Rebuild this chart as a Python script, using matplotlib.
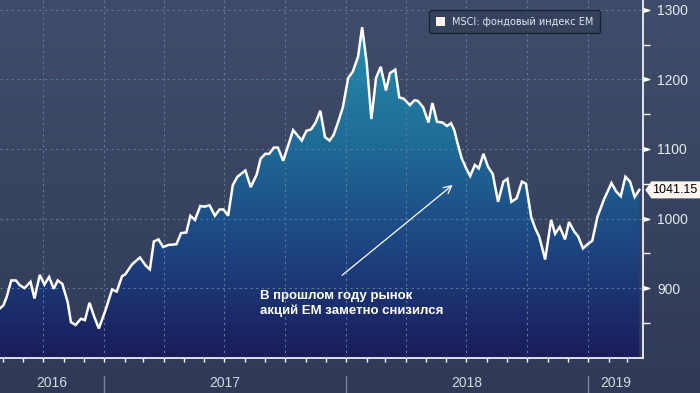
import numpy as np
import pandas as pd
import matplotlib
matplotlib.use('Agg')
import matplotlib.pyplot as plt
import matplotlib.dates as mdates
import matplotlib.transforms as mtransforms
from matplotlib.colors import LinearSegmentedColormap
from matplotlib.patches import Patch, PathPatch, Polygon

# Data: MSCI EM index, days counted from the first point
start_date = pd.Timestamp('2016-07-28')
end_date = start_date + pd.Timedelta(days=970)
day_offsets = [
    0, 5, 10, 17, 24, 30, 37, 46, 52, 60, 67, 74, 81, 87, 94, 102, 107, 114,
    122, 128, 135, 142, 149, 159, 169, 176, 184, 189, 199, 211, 220, 226, 232,
    239, 246, 254, 266, 273, 281, 287, 294, 302, 308, 316, 324, 331, 337, 344,
    351, 358, 370, 378, 387, 393, 400, 406, 413, 419, 427, 442, 455, 462, 469,
    476, 483, 490, 497, 503, 510, 517, 525, 532, 540, 546, 553, 560, 567, 574,
    582, 588, 596, 602, 609, 618, 625, 630, 638, 646, 652, 659, 667, 674, 680,
    685, 690, 696, 703, 709, 716, 722, 729, 736, 743, 751, 759, 765, 771, 779,
    787, 793, 801, 807, 813, 822, 831, 837, 844, 852, 858, 866, 872, 879, 886,
    893, 901, 911, 922, 929, 936, 943, 950, 957, 964,
]
index_values = [
    871, 875, 887, 911, 911, 904, 900, 909, 885, 919, 905, 916, 899, 911, 906,
    880, 851, 847, 856, 854, 879, 859, 842, 868, 898, 895, 917, 920, 934, 944,
    932, 927, 967, 970, 959, 962, 963, 979, 980, 1004, 998, 1018, 1017, 1019,
    1004, 1013, 1013, 1004, 1048, 1060, 1069, 1045, 1063, 1086, 1093, 1093,
    1102, 1102, 1083, 1127, 1112, 1126, 1128, 1138, 1155, 1117, 1112, 1120,
    1139, 1160, 1202, 1211, 1233, 1275, 1223, 1143, 1202, 1218, 1184, 1209,
    1214, 1174, 1172, 1163, 1170, 1169, 1160, 1138, 1166, 1139, 1138, 1133,
    1137, 1127, 1108, 1087, 1072, 1061, 1077, 1072, 1093, 1074, 1064, 1024,
    1053, 1057, 1024, 1029, 1053, 1050, 1002, 986, 974, 941, 998, 978, 988,
    970, 995, 981, 974, 957, 963, 968, 1003, 1028, 1051, 1039, 1032, 1060,
    1053, 1031, 1041.15,
]
last_value = index_values[-1]
y_major = [900, 1000, 1100, 1200, 1300]
y_minor = [850, 950, 1050, 1150, 1250]
years = [2016, 2017, 2018, 2019]
legend_label = 'MSCI: фондовый индекс EM'
note_text = 'В прошлом году рынок\nакций EM заметно снизился'

dates = start_date + pd.to_timedelta(day_offsets, unit='D')
y_bottom, y_top = 800, 1314
label_font = 'Liberation Sans'

fig = plt.figure(figsize=(7, 3.93), dpi=100)

# Background gradient for the whole figure
bg_ax = fig.add_axes([0, 0, 1, 1], zorder=-10)
bg_cmap = LinearSegmentedColormap.from_list('bg', ['#303a56', '#404d6a'])
bg_ax.imshow(np.linspace(1, 0, 256).reshape(-1, 1), cmap=bg_cmap, aspect='auto',
             extent=[0, 1, 0, 1])
bg_ax.axis('off')

ax = fig.add_axes([0, 1 - 357.7 / 393, 643.3 / 700, 357.7 / 393])
ax.set_facecolor('none')

x0, x1 = mdates.date2num(start_date), mdates.date2num(end_date)

# Area under the line with vertical gradient
fill = ax.fill_between(dates, index_values, y_bottom, color='none', lw=0)
clip = PathPatch(fill.get_paths()[0], transform=ax.transData, fc='none', ec='none')
ax.add_patch(clip)
fill_cmap = LinearSegmentedColormap.from_list(
    'fill', [(0.0, '#1a1c5a'), (0.3, '#1d4380'), (0.6, '#1f6b97'), (1.0, '#2796b3')])
im = ax.imshow(np.linspace(1, 0, 256).reshape(-1, 1), cmap=fill_cmap, aspect='auto',
               extent=[x0, x1, y_bottom, y_top], zorder=1)
im.set_clip_path(clip)

ax.plot(dates, index_values, color='white', lw=1.8, zorder=4, solid_joinstyle='miter')

ax.set_xlim(x0, x1)
ax.set_ylim(y_bottom, y_top)

# Axes styling
for side in ['left', 'top']:
    ax.spines[side].set_visible(False)
for side in ['right', 'bottom']:
    ax.spines[side].set_color('white')
    ax.spines[side].set_linewidth(1.2)

ax.xaxis.set_major_locator(mdates.MonthLocator(bymonth=[1, 4, 7, 10]))
ax.xaxis.set_minor_locator(mdates.MonthLocator())
ax.xaxis.set_major_formatter(plt.NullFormatter())
ax.tick_params(axis='x', which='both', direction='out', length=3, width=1, color='white')

ax.yaxis.tick_right()
ax.set_yticks(y_major)
ax.set_yticks(y_minor, minor=True)
ax.tick_params(axis='y', which='major', length=0, pad=10, labelsize=10,
               labelcolor='#e6e9f0')
ax.tick_params(axis='y', which='minor', direction='out', length=5, width=1, color='white')
for lab in ax.get_yticklabels():
    lab.set_family(label_font)

ax.grid(True, which='major', color='#5d7c9c', lw=0.8, linestyle=(0, (2, 3)))
ax.set_axisbelow(False)

# Triangle markers for the major y ticks
tri = [(0, -0.6), (2, 0), (0, 0.6)]
ax.plot([1.0] * len(y_major), y_major, linestyle='none', marker=tri, markersize=9,
        color='white', transform=ax.get_yaxis_transform(), clip_on=False, zorder=5)

# Year labels and separators under the axis
for yr in years:
    a = max(pd.Timestamp(f'{yr}-01-01'), start_date)
    b = min(pd.Timestamp(f'{yr + 1}-01-01'), end_date)
    mid = a + (b - a) / 2
    ax.text(mid, -0.072, str(yr), transform=ax.get_xaxis_transform(), ha='center',
            va='center', fontsize=10, color='#d4d8e2', family=label_font)
    if pd.Timestamp(f'{yr}-01-01') > start_date:
        ax.plot([pd.Timestamp(f'{yr}-01-01')] * 2, [-0.05, -0.1], color='#7c8396', lw=1,
                transform=ax.get_xaxis_transform(), clip_on=False)

# Legend
handle = Patch(facecolor='#fff1ee', edgecolor='none')
leg = ax.legend([handle], [legend_label], loc='upper right', bbox_to_anchor=(0.94, 0.985),
                fontsize=7, frameon=True, fancybox=True, handlelength=1.0,
                handleheight=1.0, handletextpad=0.7, borderpad=0.65)
leg.get_frame().set_facecolor('#344059')
leg.get_frame().set_edgecolor('#12172a')
leg.get_frame().set_linewidth(1)
for t in leg.get_texts():
    t.set_color('#e2e6ee')

# Last value tag
tag_trans = fig.dpi_scale_trans + mtransforms.ScaledTranslation(
    1.0, last_value, ax.get_yaxis_transform())
tag = Polygon([(0.02, 0), (0.08, 0.085), (0.62, 0.085), (0.62, -0.085), (0.08, -0.085)],
              closed=True, transform=tag_trans, fc='#fff6ee', ec='none', clip_on=False,
              zorder=6)
ax.add_patch(tag)
ax.text(0.085, 0, f'{last_value:.2f}', transform=tag_trans, ha='left', va='center',
        fontsize=9, color='black', family=label_font, zorder=7)

# Annotation
ax.annotate('', xy=(0.707, 0.488), xytext=(0.5285, 0.2256), xycoords='axes fraction',
            arrowprops=dict(arrowstyle='->', color='white', lw=0.9, mutation_scale=14),
            zorder=6)
ax.text(0.404, 0.19, note_text, transform=ax.transAxes, ha='left', va='top',
        fontsize=9.5, fontweight='bold', color='white', family='Liberation Sans',
        linespacing=1.25, zorder=6)

fig.savefig('out.png', dpi=100)
